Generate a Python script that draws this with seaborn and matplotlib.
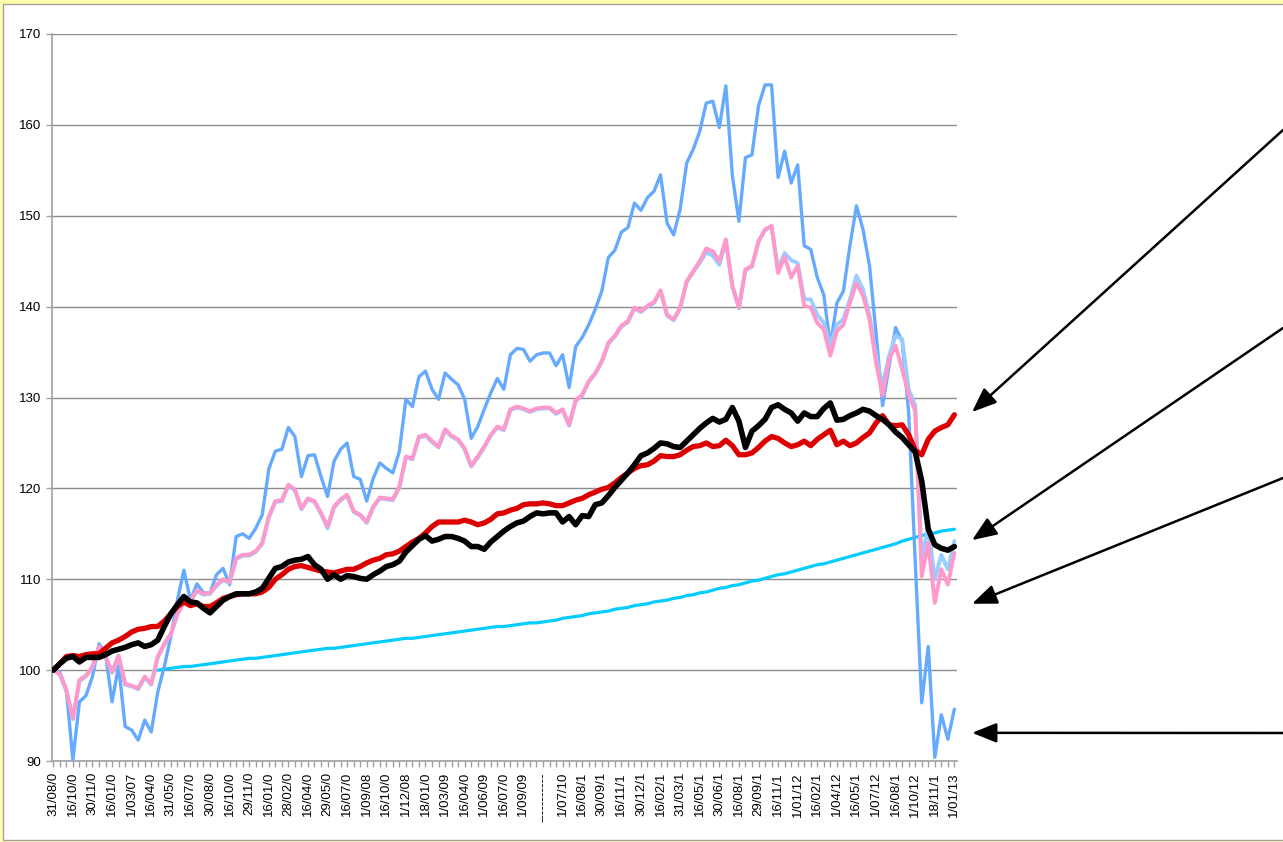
import numpy as np
import pandas as pd
import matplotlib
matplotlib.use('Agg')
import matplotlib.pyplot as plt
from matplotlib.patches import Rectangle
import seaborn as sns

plt.rcParams['font.family'] = ['Liberation Sans', 'DejaVu Sans']

# category labels shown under the axis (every third point)
tick_labels = ['31/08/0', '16/10/0', '30/11/0', '16/01/0', '1/03/07', '16/04/0', '31/05/0',
               '16/07/0', '30/08/0', '16/10/0', '29/11/0', '16/01/0', '28/02/0', '16/04/0',
               '29/05/0', '16/07/0', '1/09/08', '16/10/0', '1/12/08', '18/01/0', '1/03/09',
               '16/04/0', '1/06/09', '16/07/0', '1/09/09', '-----------', '1/07/10', '16/08/1',
               '30/09/1', '16/11/1', '30/12/1', '16/02/1', '31/03/1', '16/05/1', '30/06/1',
               '16/08/1', '29/09/1', '16/11/1', '1/01/12', '16/02/1', '1/04/12', '16/05/1',
               '1/07/12', '16/08/1', '1/10/12', '18/11/1', '1/01/13']

blue = [100.0, 99.8, 97.8, 90.1, 96.5, 97.2, 99.3, 102.9, 101.8, 96.5,
        100.5, 93.8, 93.4, 92.3, 94.5, 93.2, 97.6, 100.4, 103.7, 107.7,
        111.0, 107.7, 109.5, 108.5, 108.5, 110.5, 111.2, 109.4, 114.7, 115.0,
        114.5, 115.6, 117.1, 122.1, 124.1, 124.3, 126.7, 125.7, 121.3, 123.6,
        123.7, 121.3, 119.1, 123.0, 124.3, 125.0, 121.3, 121.0, 118.6, 121.1,
        122.8, 122.2, 121.7, 124.1, 129.8, 129.0, 132.3, 132.9, 130.9, 129.8,
        132.7, 132.0, 131.4, 129.8, 125.5, 126.8, 128.7, 130.5, 132.1, 130.9,
        134.7, 135.4, 135.3, 134.0, 134.7, 134.9, 134.9, 133.5, 134.7, 131.1,
        135.6, 136.6, 138.0, 139.7, 141.7, 145.4, 146.2, 148.2, 148.7, 151.4,
        150.6, 152.0, 152.7, 154.5, 149.2, 147.9, 150.7, 155.8, 157.3, 159.3,
        162.4, 162.6, 159.7, 164.3, 154.4, 149.4, 156.4, 156.7, 162.1, 164.4,
        164.4, 154.2, 157.1, 153.6, 155.6, 146.7, 146.3, 143.2, 141.3, 135.7,
        140.4, 141.7, 146.7, 151.1, 148.5, 144.5, 137.1, 129.1, 133.5, 137.7,
        136.2, 128.3, 112.0, 96.4, 102.6, 90.4, 95.1, 92.4, 95.7]

pink = [100.0, 99.6, 97.8, 94.7, 98.9, 99.4, 100.4, 102.6, 101.5, 99.8,
        101.6, 98.5, 98.3, 98.0, 99.3, 98.5, 101.5, 102.9, 104.0, 106.2,
        107.5, 107.7, 108.8, 108.4, 108.5, 109.4, 110.0, 109.7, 112.3, 112.7,
        112.7, 113.1, 114.0, 116.9, 118.6, 118.7, 120.4, 119.9, 117.8, 118.9,
        118.6, 117.3, 115.8, 118.0, 118.8, 119.3, 117.5, 117.1, 116.3, 118.0,
        119.0, 118.9, 118.8, 120.2, 123.5, 123.3, 125.7, 125.9, 125.2, 124.6,
        126.5, 125.8, 125.4, 124.4, 122.5, 123.5, 124.6, 125.9, 126.8, 126.5,
        128.7, 129.0, 128.8, 128.5, 128.8, 128.9, 128.9, 128.3, 128.7, 127.0,
        129.7, 130.3, 131.8, 132.7, 134.0, 136.0, 136.8, 137.9, 138.4, 139.9,
        139.5, 140.1, 140.5, 141.8, 139.1, 138.6, 139.9, 142.8, 143.9, 145.0,
        146.4, 146.1, 145.0, 147.4, 142.3, 139.9, 144.1, 144.5, 147.2, 148.5,
        148.9, 143.7, 145.5, 143.2, 144.5, 140.1, 139.9, 138.2, 137.5, 134.6,
        137.3, 138.0, 140.4, 142.6, 141.2, 138.6, 133.8, 130.2, 134.2, 135.7,
        133.1, 130.3, 128.5, 110.3, 114.0, 107.4, 111.1, 109.4, 112.9]

light_blue = [100.0, 99.5, 97.7, 94.6, 98.8, 99.3, 100.3, 102.6, 101.4, 99.7,
              101.5, 98.4, 98.2, 97.9, 99.2, 98.4, 101.4, 102.8, 103.9, 106.1,
              107.5, 107.6, 108.7, 108.3, 108.4, 109.3, 109.9, 109.6, 112.2, 112.6,
              112.6, 113.0, 113.9, 116.8, 118.5, 118.6, 120.3, 119.8, 117.7, 118.8,
              118.5, 117.2, 115.6, 117.9, 118.7, 119.2, 117.4, 117.0, 116.2, 117.9,
              118.9, 118.8, 118.7, 120.1, 123.4, 123.2, 125.6, 125.8, 125.1, 124.5,
              126.4, 125.7, 125.3, 124.3, 122.4, 123.4, 124.5, 125.8, 126.7, 126.4,
              128.6, 128.9, 128.7, 128.4, 128.7, 128.8, 128.8, 128.2, 128.6, 126.9,
              129.6, 130.2, 131.7, 132.6, 133.9, 135.9, 136.7, 137.8, 138.3, 139.8,
              139.4, 140.0, 140.4, 141.7, 139.0, 138.5, 139.8, 142.7, 143.8, 144.8,
              146.0, 145.6, 144.6, 147.2, 142.2, 139.8, 144.0, 144.4, 147.1, 148.4,
              148.8, 144.1, 145.9, 145.1, 144.8, 140.8, 140.8, 139.1, 138.2, 135.8,
              138.0, 138.6, 140.8, 143.4, 141.9, 139.0, 134.6, 131.3, 134.6, 136.8,
              136.4, 130.9, 129.1, 112.2, 115.8, 110.0, 112.7, 111.1, 114.2]

red = [100.0, 100.7, 101.5, 101.6, 101.5, 101.7, 101.8, 101.8, 102.4, 103.0,
       103.3, 103.7, 104.2, 104.5, 104.6, 104.8, 104.8, 105.4, 106.2, 107.0,
       107.5, 107.1, 107.3, 107.0, 107.0, 107.4, 107.9, 108.1, 108.3, 108.4,
       108.4, 108.4, 108.6, 109.1, 110.0, 110.5, 111.1, 111.4, 111.5, 111.3,
       111.1, 110.9, 110.8, 110.7, 110.9, 111.1, 111.1, 111.4, 111.8, 112.1,
       112.3, 112.7, 112.8, 113.1, 113.6, 114.1, 114.5, 115.1, 115.8, 116.3,
       116.3, 116.3, 116.3, 116.5, 116.3, 116.0, 116.2, 116.6, 117.2, 117.3,
       117.6, 117.8, 118.2, 118.3, 118.3, 118.4, 118.3, 118.1, 118.1, 118.4,
       118.7, 118.9, 119.3, 119.6, 119.9, 120.1, 120.6, 121.2, 121.7, 122.2,
       122.5, 122.6, 123.0, 123.6, 123.5, 123.5, 123.7, 124.2, 124.6, 124.7,
       125.0, 124.6, 124.7, 125.3, 124.7, 123.7, 123.7, 123.9, 124.5, 125.2,
       125.7, 125.5, 125.0, 124.6, 124.8, 125.2, 124.7, 125.4, 125.9, 126.4,
       124.8, 125.2, 124.7, 125.0, 125.6, 126.1, 127.2, 128.0, 127.0, 126.9,
       127.0, 125.9, 124.2, 123.7, 125.4, 126.3, 126.7, 127.0, 128.1]

black = [100.0, 100.7, 101.3, 101.5, 100.9, 101.4, 101.4, 101.4, 101.7, 102.1,
         102.3, 102.5, 102.8, 103.0, 102.6, 102.8, 103.3, 104.8, 106.2, 107.2,
         108.1, 107.5, 107.4, 106.8, 106.3, 107.0, 107.7, 108.1, 108.4, 108.4,
         108.4, 108.6, 109.0, 110.1, 111.2, 111.4, 111.9, 112.1, 112.2, 112.5,
         111.6, 111.1, 110.0, 110.5, 110.0, 110.4, 110.3, 110.1, 110.0, 110.5,
         110.9, 111.4, 111.6, 112.0, 113.0, 113.7, 114.4, 114.8, 114.2, 114.4,
         114.7, 114.7, 114.5, 114.2, 113.6, 113.6, 113.3, 114.1, 114.7, 115.3,
         115.8, 116.2, 116.4, 116.9, 117.3, 117.2, 117.3, 117.3, 116.3, 116.9,
         116.0, 117.0, 116.9, 118.2, 118.4, 119.2, 120.1, 120.9, 121.7, 122.6,
         123.6, 123.9, 124.4, 125.0, 124.9, 124.6, 124.5, 125.2, 125.9, 126.6,
         127.2, 127.7, 127.3, 127.6, 128.9, 127.4, 124.5, 126.3, 126.9, 127.6,
         128.9, 129.2, 128.7, 128.3, 127.4, 128.3, 127.9, 127.9, 128.8, 129.4,
         127.5, 127.6, 128.0, 128.3, 128.7, 128.5, 128.0, 127.6, 127.0, 126.2,
         125.6, 124.8, 124.0, 120.8, 115.5, 113.8, 113.4, 113.2, 113.6]

# cyan series only starts at the 17th point
cyan = [np.nan] * 16 + [
        100.0, 100.1, 100.2, 100.3, 100.4, 100.4, 100.5, 100.6, 100.7, 100.8,
        100.9, 101.0, 101.1, 101.2, 101.3, 101.3, 101.4, 101.5, 101.6, 101.7,
        101.8, 101.9, 102.0, 102.1, 102.2, 102.3, 102.4, 102.4, 102.5, 102.6,
        102.7, 102.8, 102.9, 103.0, 103.1, 103.2, 103.3, 103.4, 103.5, 103.5,
        103.6, 103.7, 103.8, 103.9, 104.0, 104.1, 104.2, 104.3, 104.4, 104.5,
        104.6, 104.7, 104.8, 104.8, 104.9, 105.0, 105.1, 105.2, 105.2, 105.3,
        105.4, 105.5, 105.7, 105.8, 105.9, 106.0, 106.2, 106.3, 106.4, 106.5,
        106.7, 106.8, 106.9, 107.1, 107.2, 107.3, 107.5, 107.6, 107.7, 107.9,
        108.0, 108.2, 108.3, 108.5, 108.6, 108.8, 109.0, 109.1, 109.3, 109.4,
        109.6, 109.8, 109.9, 110.1, 110.3, 110.5, 110.6, 110.8, 111.0, 111.2,
        111.4, 111.6, 111.7, 111.9, 112.1, 112.3, 112.5, 112.7, 112.9, 113.1,
        113.3, 113.5, 113.7, 113.9, 114.2, 114.4, 114.6, 114.8, 115.0, 115.1,
        115.3, 115.4, 115.5]

# where the four arrows on the right point (end values)
arrow_targets = [128.4, 114.3, 107.3, 93.1]

idx = np.arange(len(blue))
df = pd.DataFrame({'idx': idx, 'cyan': cyan, 'blue': blue, 'light_blue': light_blue,
                   'pink': pink, 'red': red, 'black': black})

W, H = 1283, 842
fig = plt.figure(figsize=(W / 100, H / 100), dpi=100)
fig.patch.set_facecolor('#FFFFAA')
fig.patches.append(Rectangle((3 / W, 2 / H), 1.0, 1 - 6 / H, transform=fig.transFigure,
                             facecolor='white', edgecolor='#A0A0A0', lw=1, zorder=-10))

ax = fig.add_axes([52 / W, 1 - 761 / H, (957 - 52) / W, (761 - 34) / H])
ax.set_zorder(5)
ax.patch.set_alpha(0)

styles = [('cyan', '#00CCFF', 2.3), ('blue', '#66AAFF', 2.4), ('light_blue', '#99CCFF', 2.8),
          ('pink', '#FF99CC', 2.8), ('red', '#DD0000', 3.8), ('black', '#000000', 4.0)]
for col, c, lw in styles:
    sns.lineplot(data=df, x='idx', y=col, ax=ax, color=c, linewidth=lw,
                 solid_joinstyle='round', solid_capstyle='round', zorder=3)

ax.set_xlim(-0.2, 138.4)
ax.set_ylim(90, 170)
ax.set_xlabel('')
ax.set_ylabel('')

ax.set_yticks(range(90, 171, 10))
ax.set_xticks(range(0, len(blue), 3))
ax.set_xticklabels(tick_labels, rotation=90, fontsize=9.5)
ax.set_xticks(range(len(blue)), minor=True)
ax.tick_params(axis='y', labelsize=9.5, length=4, width=1, color='#A0A0A0', pad=4)
ax.tick_params(axis='x', which='both', length=4, width=1, color='#A0A0A0', pad=4)

ax.yaxis.grid(True, color='#8C8C8C', lw=1.0)
ax.set_axisbelow(True)
for s in ['top', 'right']:
    ax.spines[s].set_visible(False)
for s in ['left', 'bottom']:
    ax.spines[s].set_color('#A0A0A0')
    ax.spines[s].set_linewidth(1.2)

tails = [(1.0, 1 - 130 / H), (1.0, 1 - 328 / H), (1.0, 1 - 478 / H), (1.0, 1 - 733 / H)]
for yv, tail in zip(arrow_targets, tails):
    ax.annotate('', xy=(140.7, yv), xycoords='data', xytext=tail, textcoords='figure fraction',
                arrowprops=dict(arrowstyle='-|>,head_length=0.75,head_width=0.3', color='black',
                                lw=1.8, shrinkA=0, shrinkB=0, mutation_scale=20),
                annotation_clip=False)

fig.savefig('out.png', dpi=100, facecolor=fig.get_facecolor())
